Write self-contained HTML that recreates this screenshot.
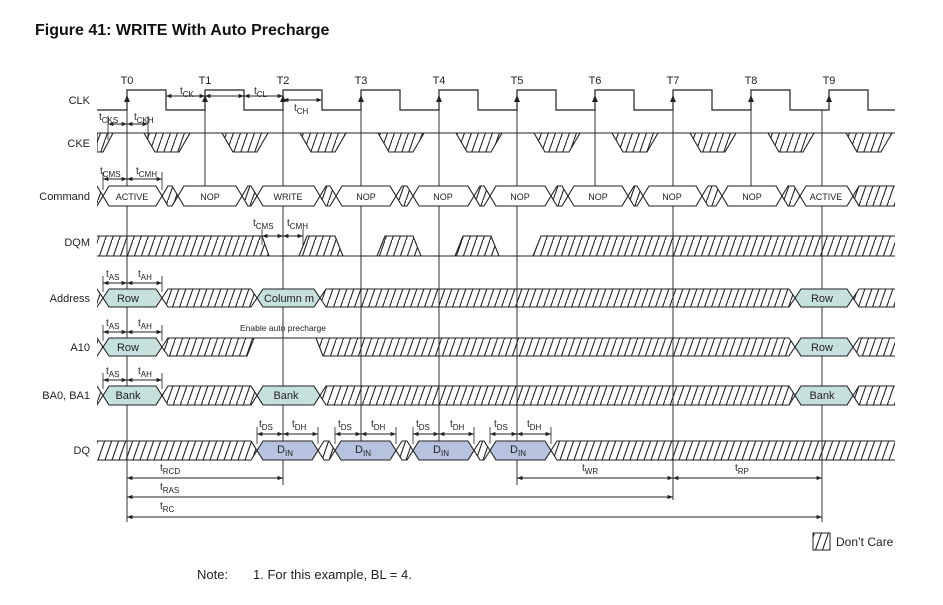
<!DOCTYPE html>
<html><head><meta charset="utf-8"><style>
html,body{margin:0;padding:0;background:#fff;}
svg{display:block;font-family:"Liberation Sans",sans-serif;}
</style></head><body>
<svg width="943" height="605" viewBox="0 0 943 605" xmlns="http://www.w3.org/2000/svg">
<defs>
<pattern id="h" patternUnits="userSpaceOnUse" width="7" height="20">
<line x1="-1" y1="22.9" x2="7" y2="0" stroke="#222" stroke-width="1.1"/>
<line x1="6" y1="22.9" x2="14" y2="0" stroke="#222" stroke-width="1.1"/>
</pattern>
<marker id="a" viewBox="0 0 10 10" refX="10" refY="5" markerWidth="6" markerHeight="6" orient="auto-start-reverse"><path d="M0,1 L10,5 L0,9z" fill="#222"/></marker>
<clipPath id="c"><rect x="97" y="0" width="798" height="605"/></clipPath>
</defs>
<rect width="943" height="605" fill="#fff"/>
<text x="35" y="35" font-size="16" font-weight="bold" fill="#111">Figure 41: WRITE With Auto Precharge</text>

<g font-size="11" fill="#222" text-anchor="end">
<text x="90" y="104">CLK</text><text x="90" y="147">CKE</text><text x="90" y="200">Command</text>
<text x="90" y="246">DQM</text><text x="90" y="302">Address</text><text x="90" y="351">A10</text>
<text x="90" y="399">BA0, BA1</text><text x="90" y="454">DQ</text>
</g>
<g font-size="11" fill="#222" text-anchor="middle">
<text x="127" y="84">T0</text><text x="205" y="84">T1</text><text x="283" y="84">T2</text><text x="361" y="84">T3</text><text x="439" y="84">T4</text><text x="517" y="84">T5</text><text x="595" y="84">T6</text><text x="673" y="84">T7</text><text x="751" y="84">T8</text><text x="829" y="84">T9</text>
</g>

<!-- vertical lines -->
<g stroke="#333" stroke-width="1">
<line x1="127" y1="100" x2="127" y2="522"/>
<line x1="205" y1="110" x2="205" y2="186"/>
<line x1="283" y1="110" x2="283" y2="485"/>
<line x1="361" y1="110" x2="361" y2="441"/>
<line x1="439" y1="110" x2="439" y2="441"/>
<line x1="517" y1="110" x2="517" y2="485"/>
<line x1="595" y1="110" x2="595" y2="186"/>
<line x1="673" y1="110" x2="673" y2="500"/>
<line x1="751" y1="110" x2="751" y2="186"/>
<line x1="822" y1="110" x2="822" y2="522"/>
</g>

<!-- CLK -->
<path d="M97,110 H127 V90 H166 V110 H205 V90 H244 V110 H283 V90 H322 V110 H361 V90 H400 V110 H439 V90 H478 V110 H517 V90 H556 V110 H595 V90 H634 V110 H673 V90 H712 V110 H751 V90 H790 V110 H829 V90 H868 V110 H895" fill="none" stroke="#222" stroke-width="1.2"/>
<g fill="#222">
<path d="M127,95 l-3,7 h6z"/><path d="M205,95 l-3,7 h6z"/><path d="M283,95 l-3,7 h6z"/><path d="M361,95 l-3,7 h6z"/><path d="M439,95 l-3,7 h6z"/><path d="M517,95 l-3,7 h6z"/><path d="M595,95 l-3,7 h6z"/><path d="M673,95 l-3,7 h6z"/><path d="M751,95 l-3,7 h6z"/><path d="M829,95 l-3,7 h6z"/>
</g>

<g clip-path="url(#c)" stroke="#222" stroke-width="1.1">
<!-- CKE -->
<line x1="97" y1="133" x2="895" y2="133"/>
<g fill="url(#h)">
<polygon points="97,152 97,133 113,133 103,152"/>
<polygon points="144,133 190,133 179,152 155,152"/>
<polygon points="222,133 268,133 257,152 233,152"/>
<polygon points="300,133 346,133 335,152 311,152"/>
<polygon points="378,133 424,133 413,152 389,152"/>
<polygon points="456,133 502,133 491,152 467,152"/>
<polygon points="534,133 580,133 569,152 545,152"/>
<polygon points="612,133 658,133 647,152 623,152"/>
<polygon points="690,133 736,133 725,152 701,152"/>
<polygon points="768,133 814,133 803,152 779,152"/>
<polygon points="846,133 892,133 881,152 857,152"/>

<!-- Command hatch gaps -->
<polygon points="85,196 91,186 97,186 103,196 97,206 91,206"/>
<polygon points="162,196 168,186 172,186 178,196 172,206 168,206"/>
<polygon points="242,196 248,186 251,186 257,196 251,206 248,206"/>
<polygon points="320,196 326,186 330,186 336,196 330,206 326,206"/>
<polygon points="396,196 402,186 407,186 413,196 407,206 402,206"/>
<polygon points="474,196 480,186 484,186 490,196 484,206 480,206"/>
<polygon points="551,196 557,186 562,186 568,196 562,206 557,206"/>
<polygon points="628,196 634,186 637,186 643,196 637,206 634,206"/>
<polygon points="702,196 708,186 716,186 722,196 716,206 708,206"/>
<polygon points="782,196 788,186 794,186 800,196 794,206 788,206"/>
<polygon points="853,196 859,186 910,186 910,206 859,206"/>

<!-- DQM -->
<polygon points="90,236 262,236 269,256 90,256"/>
<polygon points="299,256 307,236 335,236 343,256"/>
<polygon points="377,256 385,236 413,236 421,256"/>
<polygon points="455,256 463,236 491,236 499,256"/>
<polygon points="533,256 541,236 910,236 910,256"/>

<!-- Address -->
<polygon points="85,298 91,289 97,289 103,298 97,307 91,307"/>
<polygon points="162,298 168,289 251,289 257,298 251,307 168,307"/>
<polygon points="320,298 326,289 789,289 795,298 789,307 326,307"/>
<polygon points="853,298 859,289 910,289 910,307 859,307"/>
<!-- A10 -->
<polygon points="85,347 91,338 97,338 103,347 97,356 91,356"/>
<polygon points="162,347 168,338 254,338 247,356 168,356"/>
<polygon points="316,338 789,338 795,347 789,356 323,356"/>
<polygon points="853,347 859,338 910,338 910,356 859,356"/>
<!-- BA -->
<polygon points="85,395.5 91,386 97,386 103,395.5 97,405 91,405"/>
<polygon points="162,395.5 168,386 251,386 257,395.5 251,405 168,405"/>
<polygon points="320,395.5 326,386 789,386 795,395.5 789,405 326,405"/>
<polygon points="853,395.5 859,386 910,386 910,405 859,405"/>
<!-- DQ -->
<polygon points="90,441 251,441 257,450.5 251,460 90,460"/>
<polygon points="318,450.5 324,441 329,441 335,450.5 329,460 324,460"/>
<polygon points="396,450.5 402,441 407,441 413,450.5 407,460 402,460"/>
<polygon points="474,450.5 480,441 484,441 490,450.5 484,460 480,460"/>
<polygon points="551,450.5 557,441 910,441 910,460 557,460"/>
</g>
<line x1="97" y1="256" x2="895" y2="256"/>
<line x1="254" y1="338" x2="316" y2="338"/>

<!-- Command boxes -->
<g fill="#fff">
<polygon points="103,196 109,186 156,186 162,196 156,206 109,206"/>
<polygon points="178,196 184,186 236,186 242,196 236,206 184,206"/>
<polygon points="257,196 263,186 314,186 320,196 314,206 263,206"/>
<polygon points="336,196 342,186 390,186 396,196 390,206 342,206"/>
<polygon points="413,196 419,186 468,186 474,196 468,206 419,206"/>
<polygon points="490,196 496,186 545,186 551,196 545,206 496,206"/>
<polygon points="568,196 574,186 622,186 628,196 622,206 574,206"/>
<polygon points="643,196 649,186 696,186 702,196 696,206 649,206"/>
<polygon points="722,196 728,186 776,186 782,196 776,206 728,206"/>
<polygon points="800,196 806,186 847,186 853,196 847,206 806,206"/>
</g>
<g fill="#c6e0dd">
<polygon points="103,298 109,289 156,289 162,298 156,307 109,307"/>
<polygon points="257,298 263,289 314,289 320,298 314,307 263,307"/>
<polygon points="795,298 801,289 847,289 853,298 847,307 801,307"/>
<polygon points="103,347 109,338 156,338 162,347 156,356 109,356"/>
<polygon points="795,347 801,338 847,338 853,347 847,356 801,356"/>
<polygon points="103,395.5 109,386 156,386 162,395.5 156,405 109,405"/>
<polygon points="257,395.5 263,386 314,386 320,395.5 314,405 263,405"/>
<polygon points="795,395.5 801,386 847,386 853,395.5 847,405 801,405"/>
</g>
<g fill="#b7c3de">
<polygon points="257,450.5 263,441 312,441 318,450.5 312,460 263,460"/>
<polygon points="335,450.5 341,441 390,441 396,450.5 390,460 341,460"/>
<polygon points="413,450.5 419,441 468,441 474,450.5 468,460 419,460"/>
<polygon points="490,450.5 496,441 545,441 551,450.5 545,460 496,460"/>
</g>
</g>

<!-- box labels -->
<g font-size="9" fill="#222" text-anchor="middle">
<text x="132" y="200">ACTIVE</text><text x="210" y="200">NOP</text><text x="288" y="200">WRITE</text><text x="366" y="200">NOP</text><text x="443" y="200">NOP</text><text x="520" y="200">NOP</text><text x="598" y="200">NOP</text><text x="672" y="200">NOP</text><text x="752" y="200">NOP</text><text x="826" y="200">ACTIVE</text>
</g>
<g font-size="11" fill="#222" text-anchor="middle">
<text x="128" y="302">Row</text><text x="289" y="302">Column m</text><text x="822" y="302">Row</text>
<text x="128" y="351">Row</text><text x="822" y="351">Row</text>
<text x="128" y="399">Bank</text><text x="286" y="399">Bank</text><text x="822" y="399">Bank</text>
<text x="285" y="453">D<tspan font-size="8" dy="3">IN</tspan></text>
<text x="363" y="453">D<tspan font-size="8" dy="3">IN</tspan></text>
<text x="441" y="453">D<tspan font-size="8" dy="3">IN</tspan></text>
<text x="518" y="453">D<tspan font-size="8" dy="3">IN</tspan></text>
</g>
<text x="240" y="331" font-size="8.5" fill="#222">Enable auto precharge</text>

<!-- timing arrows -->
<g stroke="#222" stroke-width="0.9" marker-start="url(#a)" marker-end="url(#a)">
<line x1="166" y1="96" x2="205" y2="96"/><line x1="205" y1="96" x2="244" y2="96"/>
<line x1="244" y1="96" x2="283" y2="96"/>
<line x1="283" y1="100" x2="322" y2="100"/>
<line x1="108" y1="124" x2="127" y2="124"/><line x1="127" y1="124" x2="148" y2="124"/>
<line x1="103" y1="179" x2="127" y2="179"/><line x1="127" y1="179" x2="162" y2="179"/>
<line x1="262" y1="236" x2="283" y2="236"/><line x1="283" y1="236" x2="303" y2="236"/>
<line x1="103" y1="283" x2="127" y2="283"/><line x1="127" y1="283" x2="162" y2="283"/>
<line x1="103" y1="332" x2="127" y2="332"/><line x1="127" y1="332" x2="162" y2="332"/>
<line x1="103" y1="380" x2="127" y2="380"/><line x1="127" y1="380" x2="162" y2="380"/>
<line x1="257" y1="434" x2="283" y2="434"/><line x1="283" y1="434" x2="318" y2="434"/>
<line x1="335" y1="434" x2="361" y2="434"/><line x1="361" y1="434" x2="396" y2="434"/>
<line x1="413" y1="434" x2="439" y2="434"/><line x1="439" y1="434" x2="474" y2="434"/>
<line x1="490" y1="434" x2="517" y2="434"/><line x1="517" y1="434" x2="551" y2="434"/>
<line x1="127" y1="478" x2="283" y2="478"/>
<line x1="517" y1="478" x2="673" y2="478"/><line x1="673" y1="478" x2="822" y2="478"/>
<line x1="127" y1="497" x2="673" y2="497"/>
<line x1="127" y1="517" x2="822" y2="517"/>
</g>
<g stroke="#222" stroke-width="0.8">
<line x1="108" y1="116" x2="108" y2="140"/><line x1="148" y1="116" x2="148" y2="140"/>
<line x1="103" y1="172" x2="103" y2="190"/><line x1="162" y1="172" x2="162" y2="190"/>
<line x1="262" y1="229" x2="262" y2="245"/><line x1="303" y1="229" x2="303" y2="245"/>
<line x1="103" y1="276" x2="103" y2="292"/><line x1="162" y1="276" x2="162" y2="292"/>
<line x1="103" y1="325" x2="103" y2="341"/><line x1="162" y1="325" x2="162" y2="341"/>
<line x1="103" y1="373" x2="103" y2="389"/><line x1="162" y1="373" x2="162" y2="389"/>
<line x1="257" y1="427" x2="257" y2="444"/><line x1="318" y1="427" x2="318" y2="444"/>
<line x1="335" y1="427" x2="335" y2="444"/><line x1="396" y1="427" x2="396" y2="444"/>
<line x1="413" y1="427" x2="413" y2="444"/><line x1="474" y1="427" x2="474" y2="444"/>
<line x1="490" y1="427" x2="490" y2="444"/><line x1="551" y1="427" x2="551" y2="444"/>
</g>

<g font-size="10" fill="#222">
<text x="180" y="94">t<tspan font-size="8" dy="3">CK</tspan></text>
<text x="254" y="94">t<tspan font-size="8" dy="3">CL</tspan></text>
<text x="294" y="111">t<tspan font-size="8" dy="3">CH</tspan></text>
<text x="99" y="120">t<tspan font-size="8" dy="3">CKS</tspan></text>
<text x="134" y="120">t<tspan font-size="8" dy="3">CKH</tspan></text>
<text x="100" y="174">t<tspan font-size="8" dy="3">CMS</tspan></text>
<text x="136" y="174">t<tspan font-size="8" dy="3">CMH</tspan></text>
<text x="253" y="226">t<tspan font-size="8" dy="3">CMS</tspan></text>
<text x="287" y="226">t<tspan font-size="8" dy="3">CMH</tspan></text>
<text x="106" y="277">t<tspan font-size="8" dy="3">AS</tspan></text>
<text x="138" y="277">t<tspan font-size="8" dy="3">AH</tspan></text>
<text x="106" y="326">t<tspan font-size="8" dy="3">AS</tspan></text>
<text x="138" y="326">t<tspan font-size="8" dy="3">AH</tspan></text>
<text x="106" y="374">t<tspan font-size="8" dy="3">AS</tspan></text>
<text x="138" y="374">t<tspan font-size="8" dy="3">AH</tspan></text>
<text x="259" y="427">t<tspan font-size="8" dy="3">DS</tspan></text><text x="292" y="427">t<tspan font-size="8" dy="3">DH</tspan></text>
<text x="338" y="427">t<tspan font-size="8" dy="3">DS</tspan></text><text x="371" y="427">t<tspan font-size="8" dy="3">DH</tspan></text>
<text x="416" y="427">t<tspan font-size="8" dy="3">DS</tspan></text><text x="450" y="427">t<tspan font-size="8" dy="3">DH</tspan></text>
<text x="494" y="427">t<tspan font-size="8" dy="3">DS</tspan></text><text x="527" y="427">t<tspan font-size="8" dy="3">DH</tspan></text>
<text x="160" y="471">t<tspan font-size="8" dy="3">RCD</tspan></text>
<text x="582" y="471">t<tspan font-size="8" dy="3">WR</tspan></text>
<text x="735" y="471">t<tspan font-size="8" dy="3">RP</tspan></text>
<text x="160" y="490">t<tspan font-size="8" dy="3">RAS</tspan></text>
<text x="160" y="509">t<tspan font-size="8" dy="3">RC</tspan></text>
</g>

<rect x="813" y="533" width="17" height="17" fill="url(#h)" stroke="#222" stroke-width="1"/>
<text x="836" y="546" font-size="12" fill="#222">Don’t Care</text>
<text x="197" y="579" font-size="13" fill="#222">Note:</text>
<text x="253" y="579" font-size="13" fill="#222">1.  For this example, BL = 4.</text>
</svg>
</body></html>
